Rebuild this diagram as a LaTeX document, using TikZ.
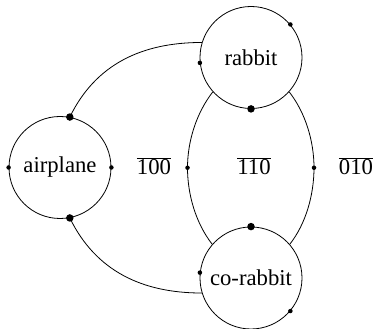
\documentclass[tikz,border=0pt]{standalone}
\usepackage{fontspec}
\setmainfont{Liberation Serif}
\begin{document}
\begin{tikzpicture}[x=1pt,y=1pt,
  state/.style={circle,draw,line width=0.8pt,minimum size=102pt,inner sep=0pt,
    font=\fontsize{22.7}{27}\selectfont},
  lab/.style={anchor=base,inner sep=0pt,font=\fontsize{22.7}{27}\selectfont},
  wire/.style={line width=0.8pt},
  bigdot/.style={fill,circle,inner sep=0pt,minimum size=7.5pt},
  smalldot/.style={fill,circle,inner sep=0pt,minimum size=4.5pt}]
\useasboundingbox (0,0) rectangle (375,329);
% circles
\node[state] (air) at (60,161.5) {airplane};
\node[state] (rab) at (251,271.5) {rabbit};
\node[state] (cor) at (251,51) {co-rabbit};
% inner coordinates
\coordinate (L) at (187.5,161.25);
\coordinate (R) at (314,161.25);
% connectors
\draw[wire] (air.79) to[out=64,in=180] (rab.163);
\draw[wire] (air.-79) to[out=-64,in=180] (cor.197);
\draw[wire] (rab.222) to[out=232,in=90,looseness=0.85] (L)
  to[out=270,in=128,looseness=0.85] (cor.139);
\draw[wire] (rab.318) to[out=-52,in=90,looseness=0.85] (R)
  to[out=270,in=52,looseness=0.85] (cor.41);
% dots
\node[bigdot] at (air.79) {};
\node[bigdot] at (air.-79) {};
\node[smalldot] at (air.180) {};
\node[smalldot] at (air.0) {};
\node[bigdot] at (rab.270) {};
\node[smalldot] at (rab.40) {};
\node[smalldot] at (rab.186) {};
\node[bigdot] at (cor.90) {};
\node[smalldot] at (cor.-40) {};
\node[smalldot] at (cor.174) {};
\node[smalldot] at (L) {};
\node[smalldot] at (R) {};
% labels
\node[lab] (l100) at (154,154) {$\overline{\mbox{100}}$};
\node[lab] (l110) at (254,154) {$\overline{\mbox{110}}$};
\node[lab] (l010) at (356,154) {$\overline{\mbox{010}}$};
\end{tikzpicture}
\end{document}
